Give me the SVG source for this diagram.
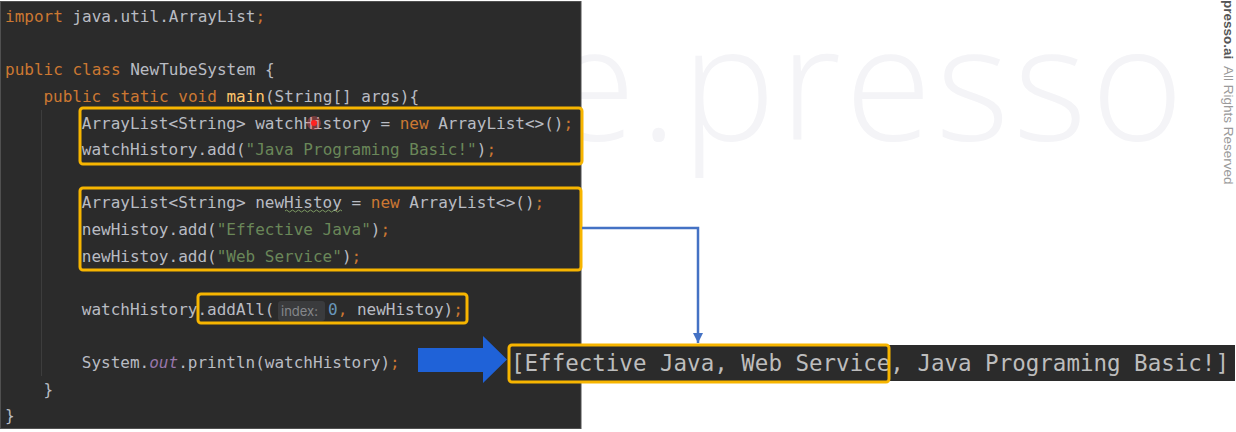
<svg xmlns="http://www.w3.org/2000/svg" width="1236" height="432" viewBox="0 0 1236 432">
<defs>
<style>
.code{font-family:"DejaVu Sans Mono","Liberation Mono",monospace;font-size:16px;fill:#b9bcc3;white-space:pre}
.kw{fill:#cc7832}
.str{fill:#6a8759}
.fn{fill:#ffc66d}
.num{fill:#6897bb}
.fld{fill:#9876aa;font-style:italic}
.hl{fill:none;stroke:#f7b500;stroke-width:3}
.hint{font-family:"Inter","Noto Sans",sans-serif;font-size:13px;fill:#85878b}
.out{font-family:"DejaVu Sans Mono","Liberation Mono",monospace;font-size:22.5px;fill:#bdbdbd;white-space:pre}
.conn{fill:none;stroke:#4472c4;stroke-width:2.5}
</style>
<marker id="tip" viewBox="0 0 10 10" markerUnits="userSpaceOnUse" markerWidth="10" markerHeight="11" refX="10" refY="5" orient="auto">
<path d="M0,0 L10,5 L0,10 z" fill="#4472c4"/>
</marker>
</defs>
<rect x="0" y="0" width="1236" height="432" fill="#ffffff"/>
<g id="watermark">
<text x="549" y="140" font-family="'Open Sans','Noto Sans',sans-serif" font-weight="300" font-size="158" letter-spacing="4" fill="#f4f4f7">e.presso</text>
</g>
<g id="footer-credit">
<text transform="translate(1224,0) rotate(90)" font-family="'Liberation Sans','Noto Sans',sans-serif" font-size="13.5" fill="#9a9a9a" style="white-space:pre"><tspan font-weight="bold" fill="#555555">presso.ai</tspan>  All Rights Reserved</text>
</g>
<g id="code-panel">
<rect x="0.5" y="1.5" width="580.5" height="427" fill="#2b2b2b" stroke="#505050" stroke-width="1"/>
<line x1="41.5" y1="110" x2="41.5" y2="376" stroke="#3d3d3d" stroke-width="1"/>
<text class="code" x="5" y="22.2"><tspan class="kw">import </tspan>java.util.ArrayList<tspan class="kw">;</tspan></text>
<text class="code" x="5" y="75.4"><tspan class="kw">public class </tspan>NewTubeSystem {</text>
<text class="code" x="43.4" y="102"><tspan class="kw">public static void </tspan><tspan class="fn">main</tspan>(String[] args){</text>
<text class="code" x="81.8" y="128.6">ArrayList&lt;String&gt; watchHistory = <tspan class="kw">new </tspan>ArrayList&lt;&gt;()<tspan class="kw">;</tspan></text>
<circle cx="314" cy="123" r="7" fill="#ff5a5a" fill-opacity="0.35"/>
<circle cx="314" cy="123" r="3" fill="#ff2222"/>
<text class="code" x="81.8" y="155.2">watchHistory.add(<tspan class="str">"Java Programing Basic!"</tspan>)<tspan class="kw">;</tspan></text>
<text class="code" x="81.8" y="208.4">ArrayList&lt;String&gt; newHistoy = <tspan class="kw">new </tspan>ArrayList&lt;&gt;()<tspan class="kw">;</tspan></text>
<path d="M285,211 q1.5,-2 3,0 t3,0 t3,0 t3,0 t3,0 t3,0 t3,0 t3,0 t3,0 t3,0 t3,0 t3,0 t3,0 t3,0 t3,0 t3,0 t3,0 t3,0 t3,0" fill="none" stroke="#7d9a63" stroke-width="1"/>
<text class="code" x="81.8" y="235">newHistoy.add(<tspan class="str">"Effective Java"</tspan>)<tspan class="kw">;</tspan></text>
<text class="code" x="81.8" y="261.6">newHistoy.add(<tspan class="str">"Web Service"</tspan>)<tspan class="kw">;</tspan></text>
<text class="code" x="81.8" y="314.8">watchHistory.addAll(</text>
<rect x="278" y="301" width="47" height="20" rx="3" fill="#3a3b3d"/>
<text class="hint" x="281" y="315.5">index:</text>
<text class="code" x="328" y="314.8"><tspan class="num">0</tspan><tspan class="kw">, </tspan>newHistoy)<tspan class="kw">;</tspan></text>
<text class="code" x="81.8" y="368">System.<tspan class="fld">out</tspan>.println(watchHistory)<tspan class="kw">;</tspan></text>
<text class="code" x="43.4" y="394.6">}</text>
<text class="code" x="5" y="421.2">}</text>
</g>
<g id="box-watch">
<rect class="hl" x="80" y="108" width="502" height="56" rx="3"/>
</g>
<g id="box-new">
<rect class="hl" x="80" y="188" width="501" height="82" rx="3"/>
</g>
<g id="box-addall">
<rect class="hl" x="198" y="294" width="269" height="29" rx="3"/>
</g>
<g id="big-arrow">
<polygon points="418,348 483,348 483,336 507,359.5 483,383 483,372 418,372" fill="#1f62d8"/>
</g>
<g id="output">
<rect x="508" y="345" width="727" height="36" fill="#2b2b2b"/>
<text class="out" x="511" y="370.5">[Effective Java, Web Service, Java Programing Basic!]</text>
<rect class="hl" x="509" y="345" width="380" height="37" rx="3"/>
</g>
<g id="connectors">
<path class="conn" d="M582,228 H698 V343" marker-end="url(#tip)"/>
</g>
</svg>
